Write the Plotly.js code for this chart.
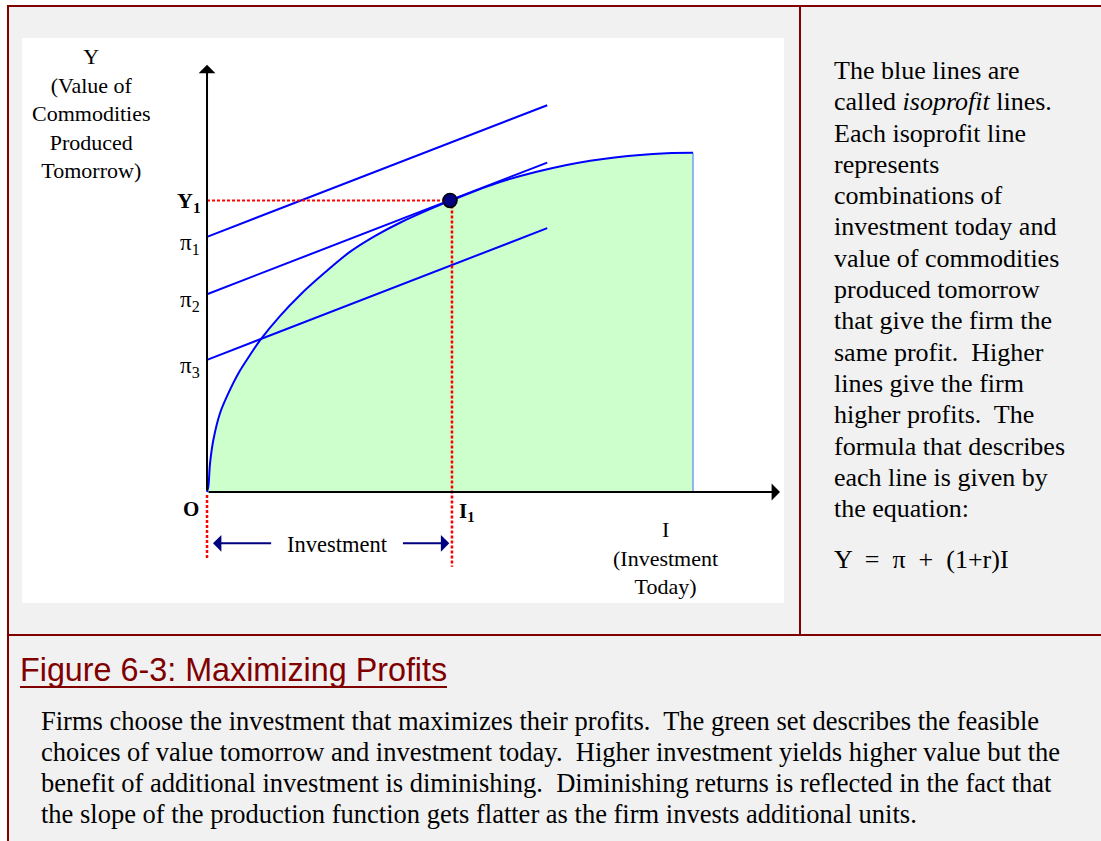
<!DOCTYPE html>
<html><head><meta charset="utf-8">
<script src="https://cdn.plot.ly/plotly-3.0.1.min.js"></script>
<style>
html,body{margin:0;padding:0;background:#ffffff;}
#page{position:relative;width:1101px;height:841px;overflow:hidden;background:#ffffff;}
#frame{position:absolute;left:7px;top:5px;width:1094px;height:836px;background:#f1f1f1;}
.rule{position:absolute;background:#800000;}
#chart{position:absolute;left:22px;top:38px;width:762px;height:565px;background:#fff;}
.serif{font-family:"Liberation Serif","Times New Roman",Times,serif;color:#000;}
#side{position:absolute;left:834px;top:55px;font-size:26px;line-height:31.3px;white-space:nowrap;}
#eq{margin-top:19.5px;white-space:pre;}
#cap{position:absolute;left:20px;top:654px;font-family:Arial,"Liberation Sans",sans-serif;font-size:32.3px;line-height:32px;color:#800000;display:inline-block;border-bottom:2px solid #800000;white-space:nowrap;}
#body{position:absolute;left:41px;top:705.5px;font-size:26.5px;line-height:31px;white-space:pre;}
</style>
</head>
<body>
<div id="page">
  <div id="frame"></div>
  <div class="rule" style="left:7px;top:5px;width:1094px;height:2px;"></div>
  <div class="rule" style="left:7px;top:5px;width:2px;height:836px;"></div>
  <div class="rule" style="left:799px;top:5px;width:1.5px;height:630px;"></div>
  <div class="rule" style="left:7px;top:634px;width:1094px;height:2px;"></div>
  <div id="chart"></div>
  <div id="side" class="serif">The blue lines are<br>called <i>isoprofit</i> lines.<br>Each isoprofit line<br>represents<br>combinations of<br>investment today and<br>value of commodities<br>produced tomorrow<br>that give the firm the<br>same profit.&nbsp; Higher<br>lines give the firm<br>higher profits.&nbsp; The<br>formula that describes<br>each line is given by<br>the equation:<div id="eq">Y  =  π  +  (1+r)I</div></div>
  <div id="cap">Figure 6-3: Maximizing Profits</div>
  <div id="body" class="serif">Firms choose the investment that maximizes their profits.  The green set describes the feasible
choices of value tomorrow and investment today.  Higher investment yields higher value but the
benefit of additional investment is diminishing.  Diminishing returns is reflected in the fact that
the slope of the production function gets flatter as the firm invests additional units.</div>
</div>
<script>
// Production function (investment today I, value tomorrow Y)
const curveI = [0, 0.027, 0.062, 0.13, 0.267, 0.438, 0.644, 0.885, 1.105, 1.50, 1.91, 2.43, 2.94, 3.46, 3.97, 4.66, 5.0, 6.03, 7.40, 8.43, 9.46, 10];
const curveY = [0, 0.109, 0.59, 1.07, 1.62, 2.03, 2.44, 2.82, 3.14, 3.62, 4.05, 4.52, 4.94, 5.27, 5.54, 5.85, 5.99, 6.38, 6.73, 6.89, 6.97, 6.98];
// Isoprofit lines Y = pi + (1+r) I
const profitLevels = [5.25, 4.07, 2.72];
const profitLabels = ['π<sub>1</sub>', 'π<sub>2</sub>', 'π<sub>3</sub>'];
const slope = 0.387;
const lineEndI = 7.0;
// Optimum
const I1 = 5.0;
const Y1 = 6.0;
const fillEndI = 10;
const fillEndY = 6.98;
// Guide / annotation extents
const dropBottom = -1.54;
const originDropTop = -0.06;
const originDropBottom = -1.36;
const yAxisTop = 8.79;
const xAxisEnd = 11.79;
const invArrowY = -1.056;
const invLeft = [0.123, 1.35];
const invRight = [4.0, 4.985];

const blue = '#0000ff';
const red = '#ff0000';
const serif = 'Liberation Serif, Times New Roman, serif';

const traces = [];
traces.push({
  x: curveI, y: curveY, type: 'scatter', mode: 'lines',
  line: {color: blue, width: 2, shape: 'spline', smoothing: 1.0},
  fill: 'tozeroy', fillcolor: '#ccffcc', hoverinfo: 'skip'
});
traces.push({
  x: [fillEndI, fillEndI], y: [0, fillEndY], type: 'scatter', mode: 'lines',
  line: {color: '#3a6cff', width: 1}, hoverinfo: 'skip'
});
profitLevels.forEach(function (p) {
  traces.push({
    x: [0, lineEndI], y: [p, p + slope * lineEndI], type: 'scatter', mode: 'lines',
    line: {color: blue, width: 2}, hoverinfo: 'skip'
  });
});
const dotted = {color: red, width: 2.5, dash: '3px,2px'};
traces.push({x: [0, I1], y: [Y1, Y1], type: 'scatter', mode: 'lines', line: {color: red, width: 2, dash: '3px,2px'}, hoverinfo: 'skip'});
traces.push({x: [I1 + 0.04, I1 + 0.04], y: [Y1, dropBottom], type: 'scatter', mode: 'lines', line: dotted, hoverinfo: 'skip'});
traces.push({x: [0, 0], y: [originDropTop, originDropBottom], type: 'scatter', mode: 'lines', line: dotted, hoverinfo: 'skip'});
traces.push({
  x: [I1], y: [Y1], type: 'scatter', mode: 'markers',
  marker: {size: 14, color: '#000080', line: {color: '#000', width: 1.5}}, hoverinfo: 'skip'
});

function arrow(x, y, ax, ay, color) {
  return {x: x, y: y, ax: ax, ay: ay, xref: 'x', yref: 'y', axref: 'x', ayref: 'y',
    text: '', showarrow: true, arrowhead: 1, arrowsize: 1.4, arrowwidth: 2, arrowcolor: color, standoff: 0};
}
const annotations = [
  arrow(0, yAxisTop, 0, 0, '#000'),
  arrow(xAxisEnd, 0, 0, 0, '#000'),
  arrow(invLeft[0], invArrowY, invLeft[1], invArrowY, '#000080'),
  arrow(invRight[1], invArrowY, invRight[0], invArrowY, '#000080'),
  {x: -2.387, y: 7.78, xref: 'x', yref: 'y', showarrow: false,
    text: 'Y<br>(Value of<br>Commodities<br>Produced<br>Tomorrow)', font: {family: serif, size: 22, color: '#000'}},
  {x: 9.44, y: -1.368, xref: 'x', yref: 'y', showarrow: false,
    text: 'I<br>(Investment<br>Today)', font: {family: serif, size: 22, color: '#000'}},
  {x: 2.685, y: -1.09, xref: 'x', yref: 'y', showarrow: false,
    text: 'Investment', font: {family: serif, size: 22.5, color: '#000'}},
  {x: 0, y: 0, xref: 'x', yref: 'y', xanchor: 'right', yanchor: 'middle', xshift: -6, yshift: -17, showarrow: false,
    text: '<b>O</b>', font: {family: serif, size: 21, color: '#000'}},
  {x: I1, y: 0, xref: 'x', yref: 'y', xanchor: 'left', yanchor: 'middle', xshift: 7, yshift: -20, showarrow: false,
    text: '<b>I<sub>1</sub></b>', font: {family: serif, size: 21, color: '#000'}},
  {x: 0, y: Y1, xref: 'x', yref: 'y', xanchor: 'right', yanchor: 'middle', xshift: -4, yshift: -2, showarrow: false,
    text: '<b>Y<sub>1</sub></b>', font: {family: serif, size: 22, color: '#000'}}
];
profitLevels.forEach(function (p, i) {
  annotations.push({x: 0, y: p, xref: 'x', yref: 'y', xanchor: 'right', yanchor: 'middle', xshift: -5, yshift: -7,
    showarrow: false, text: profitLabels[i], font: {family: serif, size: 23, color: '#000'}});
});

const layout = {
  width: 762, height: 565,
  margin: {l: 0, r: 0, t: 0, b: 0, pad: 0},
  paper_bgcolor: '#ffffff', plot_bgcolor: '#ffffff',
  showlegend: false,
  xaxis: {range: [-3.807, 11.872], visible: false, fixedrange: true},
  yaxis: {range: [-2.284, 9.342], visible: false, fixedrange: true},
  annotations: annotations
};
Plotly.newPlot('chart', traces, layout, {displayModeBar: false, staticPlot: true});
</script>
</body></html>
